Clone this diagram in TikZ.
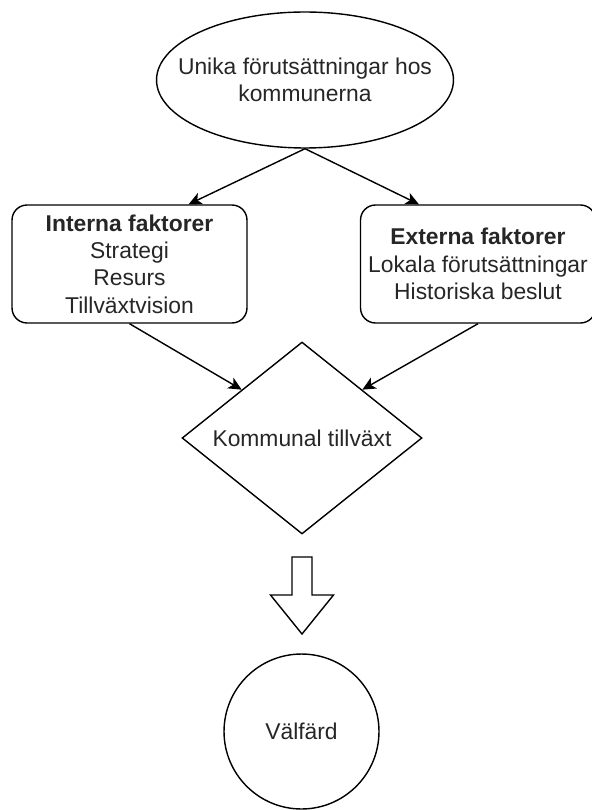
\documentclass[tikz,border=0pt]{standalone}
\usepackage{fontspec}
\setmainfont{Liberation Sans}
\usetikzlibrary{arrows.meta,calc,shapes.geometric}

\begin{document}
\begin{tikzpicture}[
        x=0.02cm, y=-0.02cm,
        line width=0.8pt,
        >={Stealth[length=7.5pt,width=7pt,inset=2pt]},
        every node/.style={font=\fontsize{13}{15.5}\selectfont, text=black!85, align=center},
        factorbox/.style={draw, rounded corners=0.3cm, minimum width=4.7cm, minimum height=2.36cm}
        ]
            \useasboundingbox (0, 0) rectangle (591, 810);

            % Start
            \node[draw, ellipse, inner xsep=-0.6cm, inner ysep=0pt, minimum width=5.94cm, minimum height=2.72cm] (unika) at (305, 80) {Unika förutsättningar hos\\kommunerna};

            % Factors
            \node[factorbox] (interna) at (129.5, 264) {\textbf{Interna faktorer}\\Strategi\\Resurs\\Tillväxtvision};
            \node[factorbox] (externa) at (478, 264) {\textbf{Externa faktorer}\\Lokala förutsättningar\\Historiska beslut};
            \draw[->] (unika.south) -- ($(interna.north)!.5!(interna.north east)$);
            \draw[->] (unika.south) -- ($(externa.north)!.5!(externa.north west)$);

            % Growth
            \node[draw, diamond, aspect=1.25, inner sep=0pt, minimum width=4.8cm, minimum height=3.84cm] (tillvaxt) at (302, 438) {Kommunal tillväxt};
            \draw[->] (interna.south) -- (tillvaxt.north west);
            \draw[->] (externa.south) -- (tillvaxt.north east);

            % Result
            \draw (292, 557) -- (312, 557) -- (312, 595) -- (333.5, 595) -- (302, 634) -- (270.5, 595) -- (292, 595) -- cycle;
            \node[draw, circle, minimum size=3.1cm] (valfard) at (301.5, 731.5) {Välfärd};
        \end{tikzpicture}
\end{document}
